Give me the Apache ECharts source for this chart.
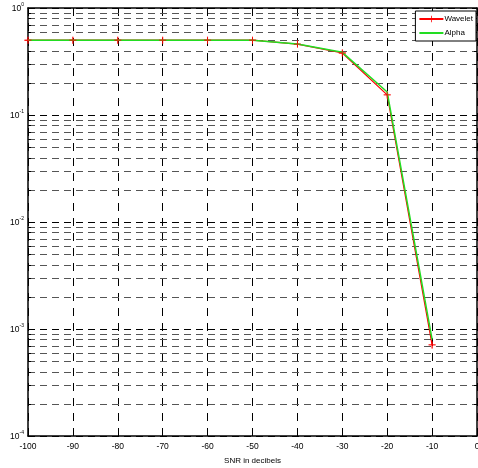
<!DOCTYPE html>
<html><head><meta charset="utf-8">
<script src="https://cdn.jsdelivr.net/npm/echarts@6/dist/echarts.min.js"></script>
<style>html,body{margin:0;padding:0;background:#fff}#c{width:478px;height:468px}</style>
</head><body><div id="c"></div>
<script>
var snr = [-100, -90, -80, -70, -60, -50, -40, -30, -20, -10];
var wavelet = [0.50, 0.50, 0.50, 0.50, 0.50, 0.50, 0.46, 0.38, 0.154, 0.00071];
var alpha = [0.50, 0.50, 0.50, 0.50, 0.50, 0.50, 0.46, 0.385, 0.164, 0.00080];
var xTicks = [-100, -90, -80, -70, -60, -50, -40, -30, -20, -10, 0];
var yDecades = [0.0001, 0.001, 0.01, 0.1, 1];
var minorVals = [];
for (var k = 0; k < yDecades.length - 1; k++) {
  for (var m = 2; m <= 9; m++) minorVals.push([-100, yDecades[k] * m]);
}
var FONT = '"Liberation Sans Narrow","Liberation Sans",Arial,sans-serif';
var chart = echarts.init(document.getElementById('c'), null, {renderer: 'canvas'});
var plusPath = 'path://M4.4,0H5.6V4.4H10V5.6H5.6V10H4.4V5.6H0V4.4H4.4Z';
var wData = snr.map(function (x, i) { return [x, wavelet[i]]; });
var aData = snr.map(function (x, i) { return [x, alpha[i]]; });
chart.setOption({
  animation: false,
  backgroundColor: '#fff',
  grid: {left: 28, top: 8, width: 449, height: 428, show: false, containLabel: false, outerBoundsMode: 'none'},
  legend: {
    data: [{name: 'Wavelet'}, {name: 'Alpha', itemStyle: {color: 'transparent', borderWidth: 0}}],
    orient: 'vertical', right: 2, top: 11,
    backgroundColor: '#fff', borderColor: '#000', borderWidth: 1,
    padding: [4, 3, 4, 3], itemGap: 6, itemWidth: 24, itemHeight: 8,
    textStyle: {fontFamily: FONT, fontSize: 8, color: '#000', padding: [0, 0, 0, -4]}
  },
  xAxis: [{
    type: 'value', min: -100, max: 0, interval: 10,
    name: 'SNR in decibels', nameLocation: 'middle', nameGap: 21,
    nameTextStyle: {fontFamily: FONT, fontSize: 8, color: '#000'},
    axisLine: {show: true, onZero: false, lineStyle: {color: '#000', width: 1.5}},
    axisTick: {show: true, inside: true, length: 5, lineStyle: {color: '#000'}},
    axisLabel: {fontFamily: FONT, fontSize: 8.5, color: '#000', margin: 6},
    splitLine: {show: true, lineStyle: {color: '#000', type: [8, 7], width: 1}}
  }, {
    type: 'value', min: -100, max: 0, interval: 10, position: 'top',
    axisLine: {show: true, onZero: false, lineStyle: {color: '#000', width: 1.5}},
    axisTick: {show: true, inside: true, length: 5, lineStyle: {color: '#000'}},
    axisLabel: {show: false}, splitLine: {show: false}
  }],
  yAxis: [{
    type: 'log', logBase: 10, min: 0.0001, max: 1,
    name: 'B E R  in  sc a le  of  1 o e 3', nameLocation: 'middle', nameGap: 14, nameRotate: 90,
    nameTextStyle: {fontFamily: FONT, fontSize: 8.5, color: '#000', padding: [0, 0, 0, -12]},
    axisLine: {show: true, onZero: false, lineStyle: {color: '#000', width: 1.5}},
    axisTick: {show: true, inside: true, length: 5, lineStyle: {color: '#000'}},
    axisLabel: {
      margin: 4, color: '#000',
      formatter: function (v) { return '{b|10}{e|' + Math.round(Math.log10(v)) + '}'; },
      rich: {
        b: {fontFamily: FONT, fontSize: 8.5, color: '#000', verticalAlign: 'bottom'},
        e: {fontFamily: FONT, fontSize: 5, color: '#000', verticalAlign: 'top', padding: [0, 0, 6, 0]}
      }
    },
    splitLine: {show: true, lineStyle: {color: '#000', type: [7, 5], width: 1}}
  }, {
    type: 'log', logBase: 10, min: 0.0001, max: 1, position: 'right',
    axisLine: {show: true, onZero: false, lineStyle: {color: '#000', width: 1.5}},
    axisTick: {show: true, inside: true, length: 5, lineStyle: {color: '#000'}},
    axisLabel: {show: false}, splitLine: {show: false}
  }],
  series: [{
    name: 'minor', type: 'custom', silent: true, z: 1,
    encode: {x: 0, y: 1},
    data: minorVals,
    renderItem: function (params, api) {
      var cs = params.coordSys;
      var y = Math.round(api.coord([api.value(0), api.value(1)])[1]) + 0.5;
      var x0 = cs.x, x1 = cs.x + cs.width;
      return {type: 'group', children: [
        {type: 'line', shape: {x1: x0, y1: y, x2: x1, y2: y}, style: {stroke: '#555', lineWidth: 1, lineDash: [7, 5]}},
        {type: 'line', shape: {x1: x0, y1: y, x2: x0 + 3, y2: y}, style: {stroke: '#000', lineWidth: 1}},
        {type: 'line', shape: {x1: x1 - 3, y1: y, x2: x1, y2: y}, style: {stroke: '#000', lineWidth: 1}}
      ]};
    }
  }, {
    name: 'Wavelet', type: 'line', z: 3,
    data: wData,
    symbol: plusPath, symbolSize: 7, showSymbol: true,
    lineStyle: {color: '#ff0000', width: 1.2},
    itemStyle: {color: '#ff0000'}
  }, {
    name: 'Alpha', type: 'line', z: 4,
    data: aData,
    symbol: 'none', showSymbol: false,
    lineStyle: {color: '#22dd22', width: 1.5},
    itemStyle: {color: '#22dd22'}
  }, {
    name: 'WaveletMarks', type: 'scatter', z: 5, silent: true,
    data: wData,
    symbol: plusPath, symbolSize: 7,
    itemStyle: {color: '#ff0000'}
  }]
});
</script></body></html>
